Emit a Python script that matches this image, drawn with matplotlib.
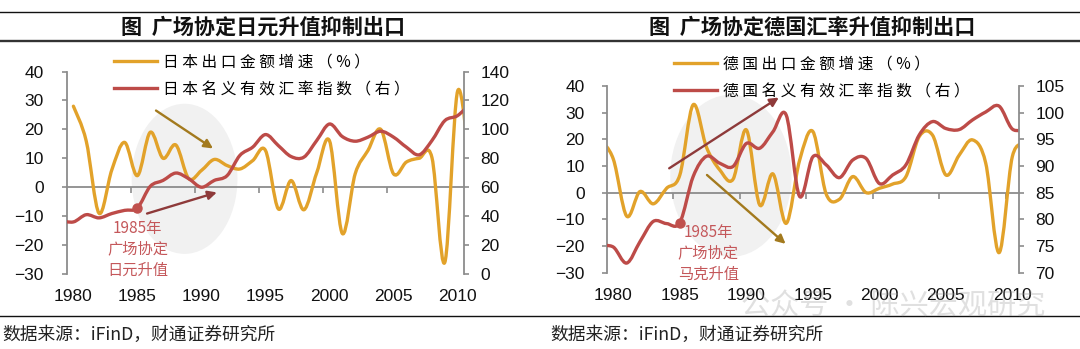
import matplotlib
matplotlib.use('Agg')
import matplotlib.pyplot as plt
from matplotlib.path import Path
from matplotlib.patches import PathPatch, Ellipse
from matplotlib.lines import Line2D
import numpy as np

plt.rcParams['font.family'] = ['Noto Sans CJK SC', 'DejaVu Sans']

# ---------------- data ----------------
jp_export_years = list(range(1980, 2012))
jp_export = [28, 16, -9, 6, 15.5, 4, 19, 10, 14.6, 3, 5.8, 9.6, 7.5, 6.3, 9.2, 12.7,
             -7.5, 2.3, -7.8, 5, 16, -16, 4.6, 12.7, 20, 4.6, 8.7, 10, 10.2, -26, 33.2, 5]
jp_neer_years = list(range(1979, 2012))
jp_neer = [37, 36, 41, 38.8, 41.8, 44, 45.7, 60.6, 64.7, 69.8, 65.9, 60, 64.7, 68, 82,
           87.7, 96.4, 88.8, 81.2, 80.8, 92.3, 103.7, 95, 91.8, 94.6, 98.7, 94.6, 87.7,
           82.4, 92.3, 106, 109.5, 118]

de_years = list(range(1979, 2012))
de_export = [20, 12.5, -8.8, 0.4, -4.2, 1.6, 6.6, 32.9, 17, 8.5, 5, 23.5, -4.6, 7, -11.5,
             12, 22.9, -0.5, -2.5, 6, 0, 1.6, 3.2, 6, 21, 21.5, 6.6, 14, 19.75, 11, -22.5,
             13.5, 18]
de_neer = [75, 74.8, 71.8, 75.8, 79.6, 79.2, 79.4, 88, 91.8, 90.5, 89.9, 94.2, 93.3, 96.4,
           99.5, 84.3, 91.7, 90.2, 87.8, 91.1, 91.4, 86.7, 88.3, 90.2, 95.8, 98.3, 97, 96.8,
           98.6, 100.1, 101.2, 96.9, 97]

xtick_years = [1980, 1985, 1990, 1995, 2000, 2005, 2010]
left_ticks = [-30, -20, -10, 0, 10, 20, 30, 40]
jp_right_ticks = [0, 20, 40, 60, 80, 100, 120, 140]
de_right_ticks = [70, 75, 80, 85, 90, 95, 100, 105]

jp_labels = ['日本出口金额增速（%）', '日本名义有效汇率指数（右）']
de_labels = ['德国出口金额增速（%）', '德国名义有效汇率指数（右）']
jp_title = '图  广场协定日元升值抑制出口'
de_title = '图  广场协定德国汇率升值抑制出口'
source = '数据来源：iFinD，财通证券研究所'
jp_note = '1985年\n广场协定\n日元升值'
de_note = '1985年\n广场协定\n马克升值'
watermark = '公众号 · 陈兴宏观研究'
event_year = 1985

# ---------------- style ----------------
W, H = 1080, 349
YEL = '#E2A22A'
RED = '#BD4B48'
GRAY = '#8C8C8C'
NOTE = '#C4575A'
BROWN = '#A37A1E'
DARKRED = '#8E3A3A'
NUMFONT = ['Liberation Sans', 'DejaVu Sans']


def smooth_path(x, y):
    pts = np.column_stack([np.asarray(x, float), np.asarray(y, float)])
    n = len(pts)
    verts = [pts[0]]
    codes = [Path.MOVETO]
    for i in range(n - 1):
        p0 = pts[i - 1] if i > 0 else pts[i]
        p1 = pts[i]
        p2 = pts[i + 1]
        p3 = pts[i + 2] if i + 2 < n else pts[i + 1]
        verts += [p1 + (p2 - p0) / 6.0, p2 - (p3 - p1) / 6.0, p2]
        codes += [Path.CURVE4] * 3
    return Path(verts, codes)


def px_axes(l, t, r, b):
    return [l / W, 1 - b / H, (r - l) / W, (b - t) / H]


fig = plt.figure(figsize=(W / 100, H / 100), dpi=100)


def panel(rect, exp_x, exp_y, neer_x, neer_y, rticks, labels, note, note_xy,
          ell, arrows, lpad, leg_anchor):
    ax = fig.add_axes(rect)
    ax2 = ax.twinx()
    ax.set_xlim(1979.5, 2010.5)
    ax.set_ylim(left_ticks[0], left_ticks[-1])
    ax2.set_ylim(rticks[0], rticks[-1])
    ax.set_yticks(left_ticks)
    ax2.set_yticks(rticks)
    ax.set_xticks(xtick_years)
    for a in (ax, ax2):
        for s in ('top', 'bottom'):
            a.spines[s].set_visible(False)
    ax.spines['right'].set_visible(False)
    ax2.spines['left'].set_visible(False)
    ax.spines['left'].set_color(GRAY)
    ax.spines['left'].set_linewidth(1.3)
    ax2.spines['right'].set_color(GRAY)
    ax2.spines['right'].set_linewidth(1.3)
    ax.tick_params(axis='y', direction='out', length=3.8, width=1.2, color=GRAY,
                   labelsize=12.5, pad=lpad)
    ax2.tick_params(axis='y', direction='out', length=3.8, width=1.2, color=GRAY,
                    labelsize=12.5, pad=8)
    ax.tick_params(axis='x', length=0, labelsize=12.5, pad=11)
    for lab in ax.get_xticklabels() + ax.get_yticklabels() + ax2.get_yticklabels():
        lab.set_family(NUMFONT)
        lab.set_color('#111111')

    # zero line with category-boundary ticks
    loc = (0 - left_ticks[0]) / (left_ticks[-1] - left_ticks[0])
    sec = ax.secondary_xaxis(loc)
    sec.set_xticks([y + 4.5 for y in xtick_years[:-1]] + [2009.5])
    sec.tick_params(direction='out', length=4, width=1.2, color=GRAY, labelbottom=False,
                    labeltop=False)
    for s in sec.spines.values():
        s.set_color(GRAY)
        s.set_linewidth(1.3)
    sec.set_zorder(1)

    ax.add_patch(Ellipse(ell[0], ell[1], ell[2], facecolor='#F1F1F1', edgecolor='none',
                         zorder=0.5))

    ax.add_patch(PathPatch(smooth_path(exp_x, exp_y), facecolor='none', edgecolor=YEL,
                           lw=2.4, capstyle='round', joinstyle='round', zorder=2))
    ax2.add_patch(PathPatch(smooth_path(neer_x, neer_y), facecolor='none', edgecolor=RED,
                            lw=2.4, capstyle='round', joinstyle='round', zorder=2))
    ev = neer_y[neer_x.index(event_year)]
    ax2.plot([event_year], [ev], 'o', color='#C0504D', ms=6.5, zorder=5)

    for (start, end, col) in arrows:
        ax.annotate('', xy=end, xytext=start,
                    arrowprops=dict(arrowstyle='-|>', color=col, lw=1.7,
                                    mutation_scale=13, shrinkA=0, shrinkB=0), zorder=3)

    ax.text(note_xy[0], note_xy[1], note, ha='center', va='center', color=NOTE,
            fontsize=11, linespacing=1.3, zorder=4)

    handles = [Line2D([], [], color=YEL, lw=2.4), Line2D([], [], color=RED, lw=2.4)]
    ax2.legend(handles, [' '.join(list(t)) for t in labels], loc='upper left',
               bbox_to_anchor=(leg_anchor[0] / W, 1 - leg_anchor[1] / H),
               bbox_transform=fig.transFigure, frameon=False, fontsize=11.3,
               handlelength=2.75, handletextpad=0.4, labelspacing=0.7,
               borderpad=0, borderaxespad=0)
    return ax, ax2


panel(px_axes(67, 71.5, 464, 274), jp_export_years, jp_export, jp_neer_years, jp_neer,
      jp_right_ticks, jp_labels, jp_note, (1985.0, -21.4),
      ((1988.68, 2.9), 8.26, 51.9),
      [((1986.45, 26.5), (1990.9, 13.4), BROWN), ((1985.75, -9.1), (1991.2, -1.8), DARKRED)],
      13, (114, 53))

panel(px_axes(606.7, 85.8, 1019, 272.7), de_years, de_export, de_years, de_neer,
      de_right_ticks, de_labels, de_note, (1987.14, -22.6),
      ((1988.84, 6.3), 9.12, 60.7),
      [((1984.2, 9.1), (1992.44, 35.6), DARKRED), ((1987.04, 6.6), (1992.95, -19.2), BROWN)],
      12, (674, 55))

# titles, rules, source
fig.text(263 / W, 1 - 27 / H, jp_title, ha='center', va='center', fontsize=15.2,
         fontweight='bold', color='#111111')
fig.text(812 / W, 1 - 27 / H, de_title, ha='center', va='center', fontsize=15.2,
         fontweight='bold', color='#111111')
for yy, lw, c in ((12, 1.0, '#111111'), (41, 1.7, '#333333'), (316, 1.0, '#111111')):
    fig.add_artist(Line2D([0, 1], [1 - yy / H] * 2, transform=fig.transFigure, color=c, lw=lw))
fig.text(2 / W, 1 - 335 / H, source, ha='left', va='center', fontsize=12.8, color='#222222')
fig.text(550 / W, 1 - 335 / H, source, ha='left', va='center', fontsize=12.8, color='#222222')

# watermark
fig.text(893 / W, 1 - 305 / H, watermark, ha='center', va='center',
         fontsize=21, color='#9A9A9A', alpha=0.3)

fig.savefig('out.png', dpi=100)
